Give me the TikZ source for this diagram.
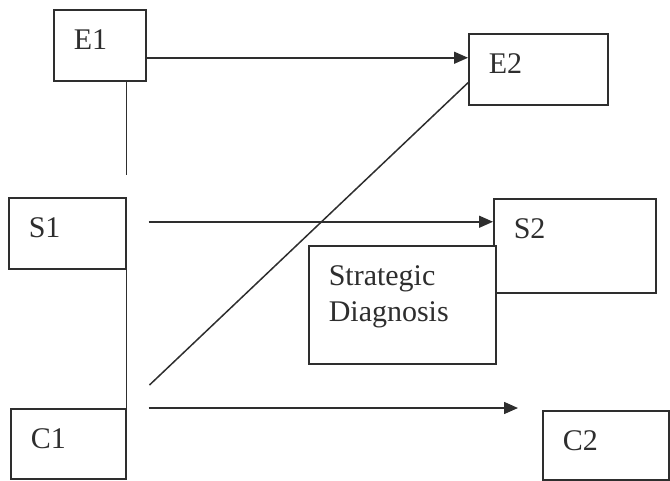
\documentclass[tikz,border=0pt]{standalone}
\usepackage{fontspec}
\setmainfont{Liberation Serif}
\usetikzlibrary{arrows.meta, calc}
\definecolor{cline}{gray}{0.18}

\begin{document}
\begin{tikzpicture}[
    x=1pt, y=-1pt,
    every node/.style={font=\fontsize{30}{36}\selectfont, text=cline},
    box/.style={draw=cline, line width=1.5pt, anchor=north west, align=left, inner sep=20pt, text height=20pt},
    link/.style={cline, line width=1.5pt},
    arr/.style={link, -{Triangle[length=14pt, width=12pt]}}
]
\useasboundingbox (0,0) rectangle (670,480);

%% Left column
\node[box, text width=52pt, text depth=11pt] (e1) at (53,9) {E1};
\node[box, text width=77pt, text depth=11pt] (s1) at (8,197) {S1};
\node[box, text width=75pt, text depth=10pt] (c1) at (10,408) {C1};

%% Right column
\node[box, text width=99pt, text depth=11pt] (e2) at (468,33) {E2};
\node[box, text width=122pt, text depth=34pt] (s2) at (493,198) {S2};
\node[box, text width=86pt, text depth=9pt] (c2) at (542,410) {C2};

%% Diagnosis
\node[box, fill=white, text width=147pt, text depth=58pt] (diag) at (308,245) {Strategic\\Diagnosis};

%% Links
\draw[link] (e1.south -| s1.east) -- ++(0,93);
\draw[link] (s1.south east) -- (s1.south east |- c1.north);
\coordinate (dlow) at ([xshift=23pt,yshift=23pt]c1.north east);
\draw[link] (dlow) -- ([yshift=-13.5pt]e2.west);

%% Arrows
\draw[arr] ([yshift=-12.5pt]e1.east) -- ([yshift=-12.5pt]e1.east -| e2.west);
\coordinate (s1out) at ([xshift=22pt,yshift=11.5pt]s1.east);
\draw[arr] (s1out) -- (s1out -| s2.west);
\draw[arr] ([xshift=22pt]c1.north east) -- ([xshift=-24pt]c1.north east -| c2.west);
\end{tikzpicture}
\end{document}
